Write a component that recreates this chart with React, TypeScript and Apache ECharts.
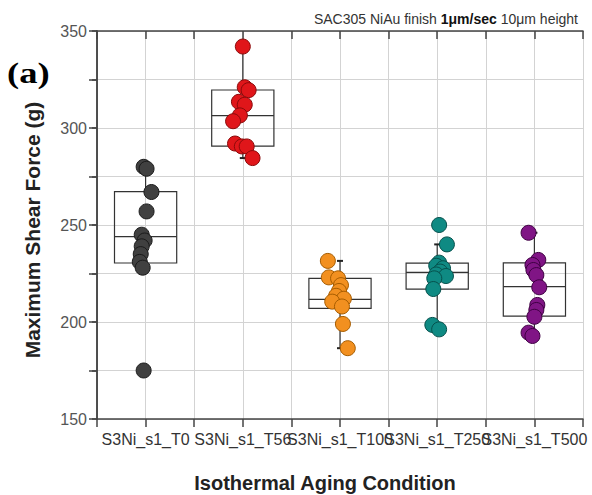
import React, { useEffect, useRef } from "react";
import * as echarts from "echarts";

const categories = ["S3Ni_s1_T0", "S3Ni_s1_T56", "S3Ni_s1_T100", "S3Ni_s1_T250", "S3Ni_s1_T500"];
const yTicks = [150, 200, 250, 300, 350];

// box statistics per category
const whiskerLow = [230.4, 284.5, 186.5, 198.5, 193];
const q1 = [230.4, 290.7, 207, 216.9, 203];
const median = [244, 306.4, 211.7, 225.6, 218.2];
const q3 = [267.2, 319.6, 222.5, 230.3, 230.5];
const whiskerHigh = [280, 342, 231.5, 240, 246];

// individual measurements (g) and horizontal jitter (category units)
const t0Values = [280, 279, 267, 257, 245, 242, 239, 235, 231, 228, 175];
const t0Jitter = [-0.04, 0.02, 0.12, 0.02, -0.08, -0.02, -0.08, -0.1, -0.12, -0.06, -0.04];
const t56Values = [342, 321, 319.5, 313.5, 312, 306.5, 303.5, 292, 290.5, 290.5, 284.5];
const t56Jitter = [0, 0.04, 0.12, -0.08, 0.04, -0.06, -0.2, -0.16, -0.02, 0.08, 0.2];
const t100Values = [231.5, 223, 222.5, 219, 216, 213.5, 212, 210.5, 208, 199, 186.5];
const t100Jitter = [-0.25, -0.23, -0.04, 0.02, -0.02, -0.08, 0.08, -0.16, 0.04, 0.06, 0.16];
const t250Values = [250, 240, 230.6, 229, 227.7, 226, 224.5, 223.7, 222.5, 217, 198.5, 196.2];
const t250Jitter = [0.04, 0.2, 0.04, -0.02, 0.12, 0.06, -0.02, 0.18, -0.06, -0.08, -0.1, 0.04];
const t500Values = [246, 232, 229.4, 226.8, 224.2, 217.9, 208.8, 206.2, 202.7, 194.5, 192.8];
const t500Jitter = [-0.12, 0.08, -0.04, -0.02, 0.04, 0.1, 0.06, 0.04, 0, -0.12, -0.04];

const groupValues = [t0Values, t56Values, t100Values, t250Values, t500Values];
const groupJitter = [t0Jitter, t56Jitter, t100Jitter, t250Jitter, t500Jitter];
const fillColors = ["#404040", "#e0161a", "#f29020", "#0f8a83", "#801585"];
const borderColors = ["#1a1a1a", "#8a0a0a", "#a65c00", "#06504c", "#3e0042"];

const catPos = (i: number) => 2 * i + 1;

export default function App() {
  const ref = useRef<HTMLDivElement>(null);
  useEffect(() => {
    document.body.style.margin = "0";
    if (!ref.current) return;
    const chart = echarts.init(ref.current, null, { renderer: "svg" });
    const axisColor = "#444";
    const gridColor = "#d3d3d3";
    const font = "Liberation Sans, Arial, sans-serif";
    const boxData = categories.map((_, i) => [catPos(i), whiskerLow[i], q1[i], median[i], q3[i], whiskerHigh[i]]);
    const half = 0.64;
    const scatterSeries = categories.map((c, i) => ({
      type: "scatter",
      name: c,
      xAxisIndex: 0,
      yAxisIndex: 0,
      symbol: "circle",
      symbolSize: 15,
      z: 5,
      itemStyle: { color: fillColors[i], borderColor: borderColors[i], borderWidth: 1, opacity: 1 },
      data: groupValues[i].map((v, k) => [catPos(i) + groupJitter[i][k], v]),
    }));
    chart.setOption({
      animation: false,
      backgroundColor: "#fff",
      title: {
        text: "SAC305 NiAu finish {b|1μm/sec} 10μm height",
        right: 9,
        top: 7,
        textStyle: {
          fontFamily: font,
          fontSize: 14,
          fontWeight: "normal",
          color: "#333",
          rich: { b: { fontWeight: "bold", fontSize: 14, color: "#111", fontFamily: font } },
        },
      },
      grid: { left: 97, right: 9, top: 31, bottom: 76, containLabel: false, outerBoundsMode: "none" },
      xAxis: [
        {
          type: "value",
          min: 0,
          max: 10,
          interval: 1,
          position: "bottom",
          axisLine: { show: true, lineStyle: { color: axisColor, width: 1.5 } },
          axisTick: { show: true, inside: false, length: 8, lineStyle: { color: axisColor, width: 1.5 } },
          axisLabel: {
            margin: 12,
            fontSize: 16,
            color: "#333",
            fontFamily: font,
            formatter: (v: number) => {
              const idx = (v - 1) / 2;
              return Number.isInteger(idx) && idx >= 0 && idx < categories.length ? categories[idx] : "";
            },
          },
          splitLine: { show: true, lineStyle: { color: gridColor, width: 1 } },
        },
        {
          type: "value",
          min: 0,
          max: 10,
          interval: 1,
          position: "top",
          axisLine: { show: true, lineStyle: { color: axisColor, width: 1.5 } },
          axisTick: { show: true, inside: true, length: 8, lineStyle: { color: axisColor, width: 1.5 } },
          axisLabel: { show: false },
          splitLine: { show: false },
        },
      ],
      yAxis: [
        {
          type: "value",
          min: 150,
          max: 350,
          interval: 25,
          position: "left",
          axisLine: { show: true, lineStyle: { color: axisColor, width: 1.5 } },
          axisTick: { show: true, inside: false, length: 8, lineStyle: { color: axisColor, width: 1.5 } },
          axisLabel: {
            margin: 10,
            fontSize: 16,
            color: "#555",
            fontFamily: font,
            formatter: (v: number) => (yTicks.includes(v) ? String(v) : ""),
          },
          splitLine: { show: true, lineStyle: { color: gridColor, width: 1 } },
        },
        {
          type: "value",
          min: 150,
          max: 350,
          interval: 25,
          position: "right",
          axisLine: { show: true, lineStyle: { color: axisColor, width: 1.5 } },
          axisTick: { show: true, inside: true, length: 5, lineStyle: { color: axisColor, width: 1.5 } },
          axisLabel: { show: false },
          splitLine: { show: false },
        },
      ],
      graphic: [
        {
          type: "text",
          x: 7,
          y: 73,
          scaleX: 1.22,
          style: {
            text: "(a)",
            font: "bold 30px 'Liberation Serif', 'Times New Roman', serif",
            fill: "#000",
            textAlign: "left",
            textVerticalAlign: "middle",
          },
        },
        {
          type: "text",
          x: 32,
          y: 230,
          rotation: Math.PI / 2,
          style: {
            text: "Maximum Shear Force (g)",
            font: "bold 21px 'Liberation Sans', Arial, sans-serif",
            fill: "#222",
            textAlign: "center",
            textVerticalAlign: "middle",
          },
        },
        {
          type: "text",
          x: 325,
          y: 483,
          style: {
            text: "Isothermal Aging Condition",
            font: "bold 20px 'Liberation Sans', Arial, sans-serif",
            fill: "#222",
            textAlign: "center",
            textVerticalAlign: "middle",
          },
        },
      ],
      series: [
        {
          type: "custom",
          xAxisIndex: 0,
          yAxisIndex: 0,
          z: 3,
          data: boxData,
          renderItem: (_params: any, api: any) => {
            const x = api.value(0);
            const lo = api.value(1);
            const b1 = api.value(2);
            const md = api.value(3);
            const b3 = api.value(4);
            const hi = api.value(5);
            const tl = api.coord([x - half, b3]);
            const br = api.coord([x + half, b1]);
            const mL = api.coord([x - half, md]);
            const mR = api.coord([x + half, md]);
            const c = api.coord([x, 0])[0];
            const yLo = api.coord([x, lo])[1];
            const yHi = api.coord([x, hi])[1];
            const ls = { stroke: "#333", lineWidth: 1.2, fill: "none" };
            const children: any[] = [
              { type: "rect", shape: { x: tl[0], y: tl[1], width: br[0] - tl[0], height: br[1] - tl[1] }, style: { stroke: "#333", lineWidth: 1.2, fill: "none" } },
              { type: "line", shape: { x1: mL[0], y1: mL[1], x2: mR[0], y2: mR[1] }, style: ls },
            ];
            if (hi > b3) {
              children.push({ type: "line", shape: { x1: c, y1: tl[1], x2: c, y2: yHi }, style: ls });
              children.push({ type: "line", shape: { x1: c - 3, y1: yHi, x2: c + 3, y2: yHi }, style: { stroke: "#222", lineWidth: 2 } });
            }
            if (lo < b1) {
              children.push({ type: "line", shape: { x1: c, y1: br[1], x2: c, y2: yLo }, style: ls });
              children.push({ type: "line", shape: { x1: c - 3, y1: yLo, x2: c + 3, y2: yLo }, style: { stroke: "#222", lineWidth: 2 } });
            }
            return { type: "group", children };
          },
        },
        ...scatterSeries,
      ],
    } as any);
    return () => chart.dispose();
  }, []);
  return <div ref={ref} style={{ width: 592, height: 495 }} />;
}
